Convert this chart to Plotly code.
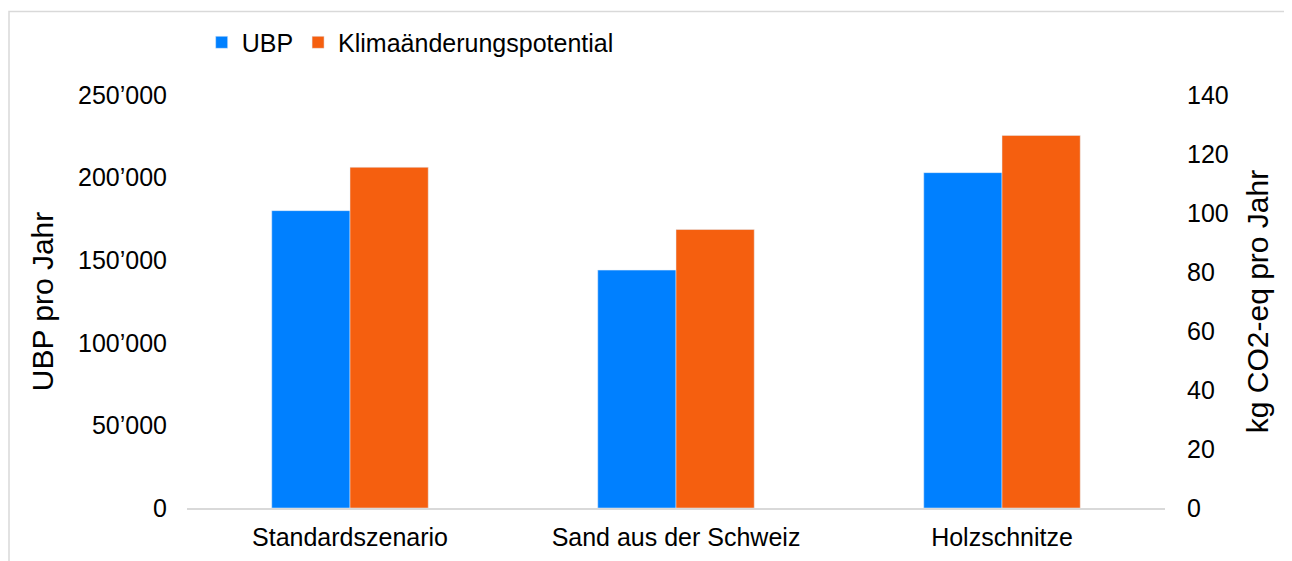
import plotly.graph_objects as go

# Szenarien und Werte
szenarien = ["Standardszenario", "Sand aus der Schweiz", "Holzschnitze"]
ubp = [180000, 144000, 203000]
klima = [115.5, 94.4, 126.3]

fig = go.Figure()

fig.add_trace(go.Bar(
    x=szenarien, y=ubp, name="UBP",
    marker_color="#0080FF", offsetgroup=1, yaxis="y"
))
fig.add_trace(go.Bar(
    x=szenarien, y=klima, name="Klimaänderungspotential",
    marker_color="#F55F0F", offsetgroup=2, yaxis="y2"
))

font_main = dict(family="Liberation Sans, Arial, sans-serif", size=25, color="#000000")

fig.update_layout(
    width=1292, height=561,
    margin=dict(l=179, r=135, t=87, b=61),
    paper_bgcolor="white", plot_bgcolor="white",
    font=font_main,
    separators=".’",
    barmode="group", bargap=0.52, bargroupgap=0,
    showlegend=True,
    legend=dict(orientation="h", x=0.015, y=1.127, xanchor="left", yanchor="middle",
                font=dict(size=25), bgcolor="rgba(0,0,0,0)", traceorder="normal"),
    xaxis=dict(showline=True, linecolor="#d9d9d9", linewidth=1.5, ticks="",
               ticklabelstandoff=6, automargin=False),
    yaxis=dict(range=[0, 250000], dtick=50000, tickformat=",", showgrid=False,
               zeroline=False, ticklabelstandoff=19, automargin=False,
               title=dict(text="UBP pro Jahr", standoff=15)),
    yaxis2=dict(range=[0, 140], dtick=20, overlaying="y", side="right", showgrid=False,
                zeroline=False, ticklabelstandoff=21, automargin=False,
                title=dict(text="kg CO2-eq pro Jahr", standoff=19)),
    shapes=[dict(type="rect", xref="paper", yref="paper",
                 x0=-0.182, x1=1.2, y0=-0.3, y1=1.202,
                 line=dict(color="#d9d9d9", width=1.5), layer="below")]
)

fig.write_html("out.html")
